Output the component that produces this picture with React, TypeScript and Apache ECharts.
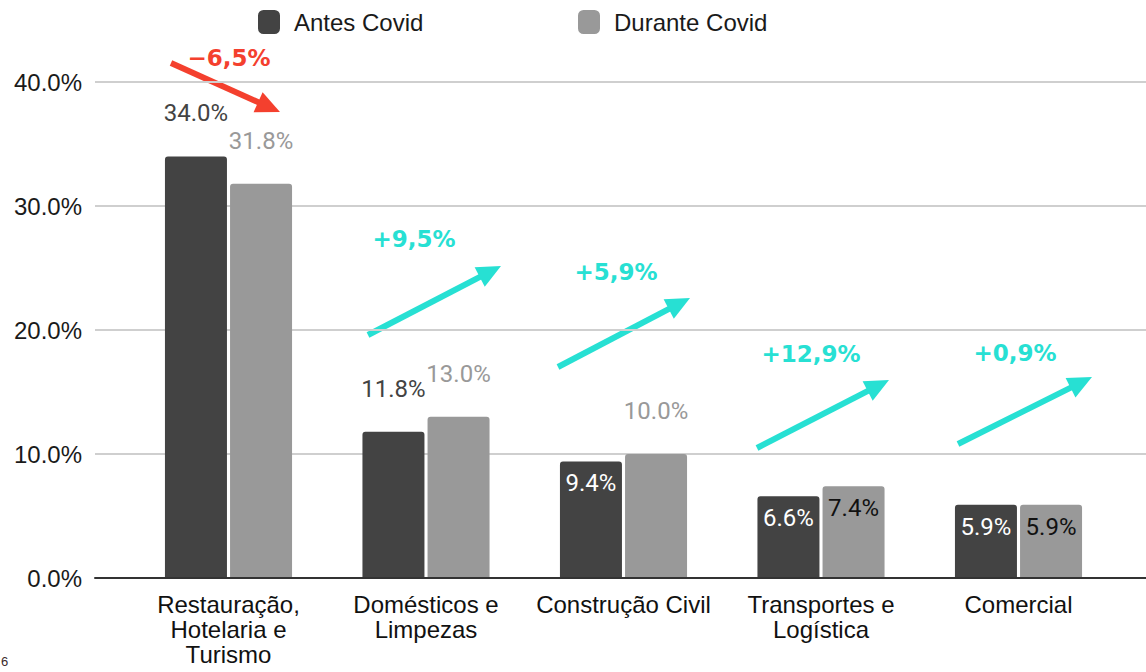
import { useEffect, useRef } from 'react';
import * as echarts from 'echarts';

const categories = [
  'Restauração,\nHotelaria e\nTurismo',
  'Domésticos e\nLimpezas',
  'Construção Civil',
  'Transportes e\nLogística',
  'Comercial',
];
const antesCovid = [34.0, 11.8, 9.4, 6.6, 5.9];
const duranteCovid = [31.8, 13.0, 10.0, 7.4, 5.9];
const variacao = ['−6,5%', '+9,5%', '+5,9%', '+12,9%', '+0,9%'];
const seriesNames = ['Antes Covid', 'Durante Covid'];

const DARK = '#434343';
const LIGHT = '#999999';
const RED = '#F4402E';
const CYAN = '#27E0D3';

// annotation layout (pixel positions of the change arrows and texts)
const arrowLayout = [
  { x1: 171, y1: 63, x2: 280, y2: 112, tx: 229, ty: 58, color: RED },
  { x1: 368, y1: 335, x2: 501, y2: 266, tx: 414, ty: 239, color: CYAN },
  { x1: 558, y1: 367, x2: 690, y2: 298, tx: 616, ty: 272, color: CYAN },
  { x1: 757, y1: 448, x2: 889, y2: 380, tx: 811, ty: 354, color: CYAN },
  { x1: 958, y1: 444, x2: 1092, y2: 377, tx: 1015, ty: 353, color: CYAN },
];

function arrowElements() {
  const els: any[] = [];
  arrowLayout.forEach((a, i) => {
    const dx = a.x2 - a.x1;
    const dy = a.y2 - a.y1;
    const len = Math.sqrt(dx * dx + dy * dy);
    const ux = dx / len;
    const uy = dy / len;
    const headLen = 24;
    const halfW = 11;
    const bx = a.x2 - ux * headLen;
    const by = a.y2 - uy * headLen;
    els.push({
      type: 'line',
      shape: { x1: a.x1, y1: a.y1, x2: bx + ux * 2, y2: by + uy * 2 },
      style: { stroke: a.color, lineWidth: 6 },
    });
    els.push({
      type: 'polygon',
      shape: {
        points: [
          [a.x2, a.y2],
          [bx - uy * halfW, by + ux * halfW],
          [bx + uy * halfW, by - ux * halfW],
        ],
      },
      style: { fill: a.color },
    });
    els.push({
      type: 'text',
      x: a.tx,
      y: a.ty,
      style: {
        text: variacao[i],
        align: 'center',
        verticalAlign: 'middle',
        fontFamily: '"DejaVu Sans"',
        fontWeight: 'bold',
        fontSize: 23,
        fill: a.color,
      },
    });
  });
  els.push({
    type: 'text',
    x: 1,
    y: 655,
    style: { text: '6', fontSize: 13, fontFamily: 'Liberation Sans', fill: '#3a2a2a' },
  });
  return els;
}

function makeData(values: number[], outsideColor: string, insideColor: string) {
  return values.map((v) => {
    const inside = v < 10;
    return {
      value: v,
      label: inside
        ? { position: 'insideTop', distance: 10, color: insideColor }
        : { position: 'top', distance: 31, color: outsideColor },
    };
  });
}

export default function App() {
  const ref = useRef<HTMLDivElement>(null);
  useEffect(() => {
    if (!ref.current) return;
    const chart = echarts.init(ref.current, undefined, { renderer: 'svg' });
    const labelBase = {
      show: true,
      fontFamily: 'Roboto',
      fontSize: 24,
      formatter: (p: any) => p.value.toFixed(1) + '%',
    };
    const legendBase = {
      itemWidth: 22,
      itemHeight: 24,
      icon: 'roundRect',
      top: 5,
      textStyle: {
        fontFamily: 'Liberation Sans',
        fontSize: 24,
        color: '#1a1a1a',
        padding: [0, 0, 0, 9],
      },
      selectedMode: false,
    };
    chart.setOption({
      animation: false,
      legend: [
        { ...legendBase, left: 253, data: [seriesNames[0]] },
        { ...legendBase, left: 573, data: [seriesNames[1]] },
      ],
      grid: [
        { left: 95, right: 0, top: 82, bottom: 94 },
        { left: 129.75, right: 28.75, top: 82, bottom: 94 },
      ],
      xAxis: [
        {
          gridIndex: 0,
          type: 'category',
          data: [''],
          axisLabel: { show: false },
          axisTick: { show: false },
          axisLine: { show: true, lineStyle: { color: '#333333', width: 2 } },
          z: 5,
        },
        {
          gridIndex: 1,
          type: 'category',
          data: categories,
          axisLine: { show: false },
          axisTick: { show: false },
          axisLabel: {
            interval: 0,
            margin: 14,
            fontFamily: 'Liberation Sans',
            fontSize: 24,
            lineHeight: 25,
            color: '#111111',
          },
        },
      ],
      yAxis: [
        {
          gridIndex: 0,
          type: 'value',
          min: 0,
          max: 40,
          interval: 10,
          axisLine: { show: false },
          axisTick: { show: false },
          axisLabel: {
            margin: 13,
            fontFamily: 'Liberation Sans',
            fontSize: 24,
            color: '#1a1a1a',
            formatter: (v: number) => v.toFixed(1) + '%',
          },
          splitLine: { lineStyle: { color: '#cfcfcf', width: 2 } },
        },
        {
          gridIndex: 1,
          type: 'value',
          min: 0,
          max: 40,
          interval: 10,
          show: false,
        },
      ],
      series: [
        {
          name: seriesNames[0],
          type: 'bar',
          xAxisIndex: 1,
          yAxisIndex: 1,
          barWidth: 62,
          barGap: '5%',
          itemStyle: { color: DARK, borderRadius: [3, 3, 0, 0] },
          label: labelBase,
          data: makeData(antesCovid, DARK, '#ffffff'),
        },
        {
          name: seriesNames[1],
          type: 'bar',
          xAxisIndex: 1,
          yAxisIndex: 1,
          barWidth: 62,
          barGap: '5%',
          itemStyle: { color: LIGHT, borderRadius: [3, 3, 0, 0] },
          label: labelBase,
          data: makeData(duranteCovid, LIGHT, '#111111'),
        },
      ],
      graphic: arrowElements(),
    });
    return () => chart.dispose();
  }, []);
  return (
    <div
      ref={ref}
      style={{ position: 'fixed', left: 0, top: 0, width: 1146, height: 672, background: '#ffffff' }}
    />
  );
}
